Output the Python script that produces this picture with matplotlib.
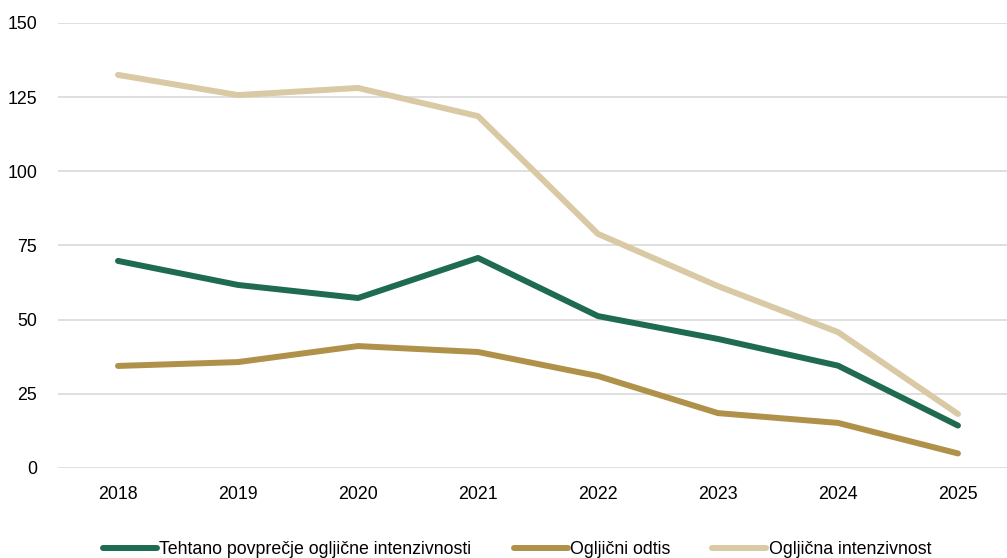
import numpy as np
import matplotlib.pyplot as plt

plt.rcParams['font.family'] = ['Liberation Sans', 'DejaVu Sans']

# Data
years = ['2018', '2019', '2020', '2021', '2022', '2023', '2024', '2025']
tehtano = [69.8, 61.7, 57.3, 70.8, 51.2, 43.5, 34.5, 14.3]
odtis = [34.4, 35.7, 41.1, 39.1, 31.0, 18.5, 15.2, 4.9]
intenzivnost = [132.5, 125.7, 128.1, 118.6, 78.9, 61.3, 45.8, 18.2]

green = "#1e6b4f"
gold = "#b09149"
beige = "#d9c9a4"

fig = plt.figure(figsize=(10.07, 5.58), dpi=100)
ax = fig.add_axes([0.0576, 0.1613, 0.9533, 0.7975])

x = np.arange(len(years))
ax.plot(x, tehtano, color=green, lw=4.3, solid_capstyle="round", solid_joinstyle="round",
        label="Tehtano povprečje ogljične intenzivnosti", zorder=3)
ax.plot(x, odtis, color=gold, lw=4.3, solid_capstyle="round", solid_joinstyle="round",
        label="Ogljični odtis", zorder=3)
ax.plot(x, intenzivnost, color=beige, lw=4.3, solid_capstyle="round", solid_joinstyle="round",
        label="Ogljična intenzivnost", zorder=2)

ax.set_xlim(-0.5, 7.5)
ax.set_ylim(0, 150)
ax.set_yticks(np.arange(0, 151, 25))
ax.set_xticks(x)
ax.set_xticklabels(years)
ax.grid(axis="y", color="#d9d9d9", lw=1.2)
ax.set_axisbelow(True)
for s in ax.spines.values():
    s.set_visible(False)
ax.tick_params(axis="y", length=0, pad=15, labelsize=12.8)
ax.tick_params(axis="x", length=0, pad=13, labelsize=12.8)

fig.legend(loc="center", bbox_to_anchor=(0.5135, 0.015), ncol=3, frameon=False,
           fontsize=12.8, handlelength=3.05, handletextpad=0.12, columnspacing=2.36)

plt.savefig("out.png")
